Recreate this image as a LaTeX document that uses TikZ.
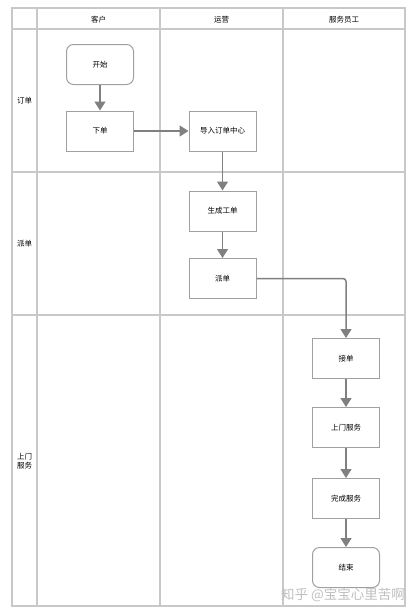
\documentclass[tikz,border=0pt]{standalone}
\usepackage{fontspec}
\newfontfamily\cjk{Noto Sans CJK SC}
\usetikzlibrary{arrows.meta}
\definecolor{gridc}{HTML}{C8C8C8}
\definecolor{boxc}{HTML}{A0A0A0}
\definecolor{arrc}{HTML}{808080}
\tikzset{
  grid/.style={draw=gridc, line width=1.3pt},
  procbox/.style={draw=boxc, line width=1pt, fill=white, minimum width=67pt, minimum height=40pt, inner sep=0pt, font=\cjk\fontsize{7.5}{9}\selectfont},
  termbox/.style={procbox, rounded corners=7pt},
  lab/.style={font=\cjk\fontsize{7.5}{9}\selectfont, align=center},
  flow/.style={draw=arrc, line width=1.5pt, -{Triangle[width=11pt,length=9pt]}},
}
\begin{document}
\begin{tikzpicture}[x=1pt,y=-1pt]
\useasboundingbox (0,0) rectangle (416,614);
% grid
\draw[grid] (12,8) rectangle (405,606);
\draw[grid] (12,29) -- (405,29);
\draw[grid] (12,172) -- (405,172);
\draw[grid] (12,315) -- (405,315);
\draw[grid] (37,8) -- (37,606);
\draw[grid] (160,8) -- (160,606);
\draw[grid] (283,8) -- (283,606);
% headers
\node[lab] (h1) at (98.5,20) {客户};
\node[lab] (h2) at (221.5,20) {运营};
\node[lab] (h3) at (344,20) {服务员工};
\node[lab] (r1) at (24.5,101) {订单};
\node[lab] (r2) at (24.5,244) {派单};
\node[lab, text width=20pt, inner sep=0pt] (r3) at (24.5,461) {上门\\服务};
% nodes
\node[termbox] (start) at (100,64.5) {开始};
\node[procbox] (xiadan) at (100,131) {下单};
\node[procbox] (daoru) at (222.5,131) {导入订单中心};
\node[procbox] (shengcheng) at (222.5,211) {生成工单};
\node[procbox] (paidan) at (222.5,278.5) {派单};
\node[procbox] (jiedan) at (346,358.5) {接单};
\node[procbox] (shangmen) at (346,427.5) {上门服务};
\node[procbox] (wancheng) at (346,498.5) {完成服务};
\node[termbox] (jieshu) at (346,567.5) {结束};
% connectors
\draw[flow] (start) -- (xiadan);
\draw[flow] (xiadan) -- (daoru);
\draw[flow] (daoru) -- (shengcheng);
\draw[flow] (shengcheng) -- (paidan);
\draw[flow, rounded corners=3pt] (paidan.east) -| (jiedan.north);
\draw[flow] (jiedan) -- (shangmen);
\draw[flow] (shangmen) -- (wancheng);
\draw[flow] (wancheng) -- (jieshu);
% watermark
\node[font=\cjk\fontsize{13.5}{15}\selectfont, text=black!25, anchor=east, inner sep=0pt] (wm) at (405,595) {知乎 @宝宝心里苦啊};
\end{tikzpicture}
\end{document}
